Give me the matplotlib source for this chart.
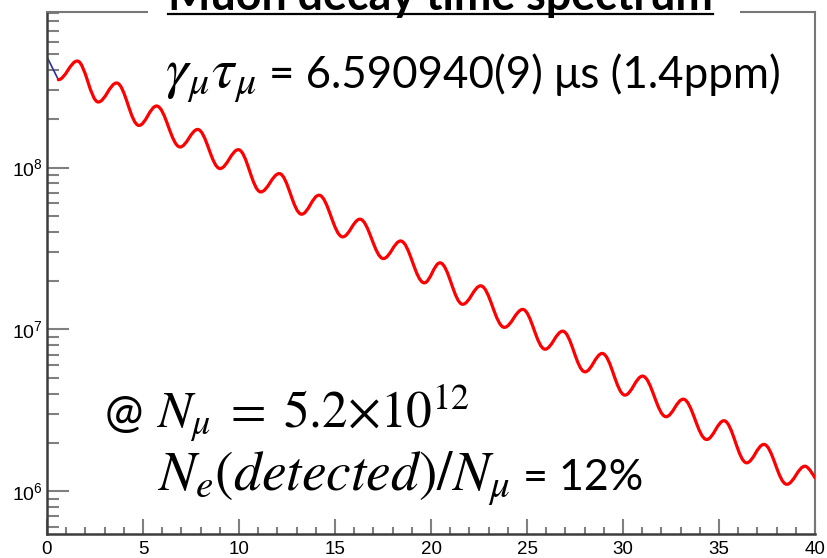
import matplotlib
matplotlib.use("Agg")
import matplotlib.pyplot as plt
from matplotlib.path import Path
from matplotlib.patches import PathPatch, Rectangle
from matplotlib.lines import Line2D
from matplotlib.ticker import MultipleLocator, LogLocator, NullFormatter

# Fitted decay curve: alternating trough / peak positions (us) and counts
fit_t = [0.59, 1.58, 2.67, 3.63, 4.79, 5.71, 6.93, 7.85, 9.01, 9.97,
         11.13, 12.10, 13.26, 14.17, 15.40, 16.30, 17.52, 18.42, 19.65, 20.47,
         21.65, 22.59, 23.82, 24.78, 25.94, 26.86, 28.02, 28.92, 30.10, 31.02,
         32.24, 33.14, 34.36, 35.26, 36.44, 37.34, 38.53, 39.48, 40.0]
fit_counts = [3.49e8, 4.55e8, 2.54e8, 3.33e8, 1.82e8, 2.40e8, 1.34e8, 1.72e8, 9.86e7, 1.29e8,
              7.07e7, 9.18e7, 5.15e7, 6.75e7, 3.73e7, 4.80e7, 2.74e7, 3.52e7, 1.94e7, 2.58e7,
              1.43e7, 1.86e7, 1.03e7, 1.33e7, 7.55e6, 9.76e6, 5.47e6, 7.11e6, 3.93e6, 5.15e6,
              2.89e6, 3.71e6, 2.09e6, 2.73e6, 1.50e6, 1.95e6, 1.105e6, 1.43e6, 1.21e6]

# Histogram content in the first bin (before the fit range starts)
hist_t0 = 0.0
hist_count0 = 4.82e8

x_range = (0, 40)
y_range = (5.45e5, 9.1e8)
x_tick_labels = ["0", "5", "10", "15", "20", "25", "30", "35", "40"]

title = "Muon decay time spectrum"
# Each annotation line is a list of (text, is_math) pieces
line_tau = [(r"$\gamma_\mu\tau_\mu$", True), ("= 6.590940(9) μs (1.4ppm)", False)]
line_nmu = [("@", False), (r"$N_\mu\;=\;5.2{\times}10^{12}$", True)]
line_ne = [(r"$N_e(detected)/N_\mu$", True), ("= 12%", False)]

W, H = 827, 558
fig = plt.figure(figsize=(W / 100, H / 100), dpi=100)
ax = fig.add_axes([47 / W, 1 - 534 / H, (815 - 47) / W, (534 - 12.3) / H])
ax.set_yscale("log")
ax.set_xlim(*x_range)
ax.set_ylim(*y_range)


def smooth_path(ts, vs, start=None, tail=None, k=0.364):
    """Cubic path through extrema with flat tangents at each turning point."""
    verts, codes = [], []
    if start is not None:
        verts.append(start)
        codes.append(Path.MOVETO)
        verts.append((ts[0], vs[0]))
        codes.append(Path.LINETO)
    else:
        verts.append((ts[0], vs[0]))
        codes.append(Path.MOVETO)
    n = len(ts)
    for i in range(n - 1):
        t0, v0, t1, v1 = ts[i], vs[i], ts[i + 1], vs[i + 1]
        dt = t1 - t0
        c1 = (t0 + k * dt, v0)
        c2 = (t1, v1) if i == n - 2 else (t1 - k * dt, v1)
        verts += [c1, c2, (t1, v1)]
        codes += [Path.CURVE4] * 3
    if tail is not None:
        verts.append(tail)
        codes.append(Path.LINETO)
    return Path(verts, codes)


# Histogram (blue) underneath the fit
blue_path = smooth_path(fit_t, fit_counts, start=(hist_t0, hist_count0),
                        tail=(fit_t[-1], y_range[0]))
ax.add_patch(PathPatch(blue_path, fill=False, edgecolor="#2f2f9c", lw=1.2,
                       zorder=2, clip_on=True))

# Fit function (red)
red_path = smooth_path(fit_t, fit_counts)
ax.add_patch(PathPatch(red_path, fill=False, edgecolor="#ff0000", lw=2.3,
                       zorder=3, joinstyle="round", capstyle="round"))

# ROOT-like frame and ticks
for side in ("left", "bottom"):
    ax.spines[side].set_color("#3c3c3c")
    ax.spines[side].set_linewidth(1.8)
for side in ("right", "top"):
    ax.spines[side].set_color("#777777")
    ax.spines[side].set_linewidth(1.5)

ax.xaxis.set_major_locator(MultipleLocator(5))
ax.xaxis.set_minor_locator(MultipleLocator(1))
ax.set_xticks(range(0, 41, 5))
ax.set_xticklabels(x_tick_labels)
ax.yaxis.set_major_locator(LogLocator(base=10))
ax.yaxis.set_minor_locator(LogLocator(base=10, subs=range(2, 10)))
ax.yaxis.set_minor_formatter(NullFormatter())

ax.tick_params(axis="y", which="major", direction="in", length=16, width=1.5,
               color="#808080", labelsize=14, pad=3, right=False)
ax.tick_params(axis="y", which="minor", direction="in", length=8.5, width=1.5,
               color="#808080", right=False)
ax.tick_params(axis="x", which="major", direction="in", length=10.5, width=1.5,
               color="#808080", labelsize=13.5, pad=5, top=False)
ax.tick_params(axis="x", which="minor", direction="in", length=5, width=1.5,
               color="#808080", top=False)
for lab in ax.get_xticklabels() + ax.get_yticklabels():
    lab.set_fontfamily("Liberation Sans")

# Title box over the top frame
fig.add_artist(Rectangle((148 / W, 1 - 40 / H), (740 - 148) / W, 40 / H,
                         transform=fig.transFigure, facecolor="white",
                         edgecolor="none", zorder=5, clip_on=False))

ttl = fig.text(168 / W, 1 - 10 / H, title, fontsize=32.3, fontweight="bold",
               family="Lato", ha="left", va="baseline", zorder=6)

renderer = fig.canvas.get_renderer()


def draw_line(pieces, x_px, base_px, text_size, math_size, gap_px):
    x = x_px
    for s, is_math in pieces:
        t = fig.text(x / W, 1 - base_px / H, s, family="Lato",
                     math_fontfamily="stix",
                     fontsize=math_size if is_math else text_size,
                     ha="left", va="baseline", zorder=6, color="black")
        x = t.get_window_extent(renderer).x1 + gap_px


draw_line(line_tau, 165, 88, 31.6, 41, 13)
draw_line(line_nmu, 105, 427, 33, 37, 13)
draw_line(line_ne, 157, 490, 31, 40, 13)

# Underline the title
bb = ttl.get_window_extent(renderer)
uy = (H - 14) / H
fig.add_artist(Line2D([bb.x0 / W, bb.x1 / W], [uy, uy], transform=fig.transFigure,
                      color="black", lw=1.6, zorder=7))

fig.savefig("out.png", dpi=100)
